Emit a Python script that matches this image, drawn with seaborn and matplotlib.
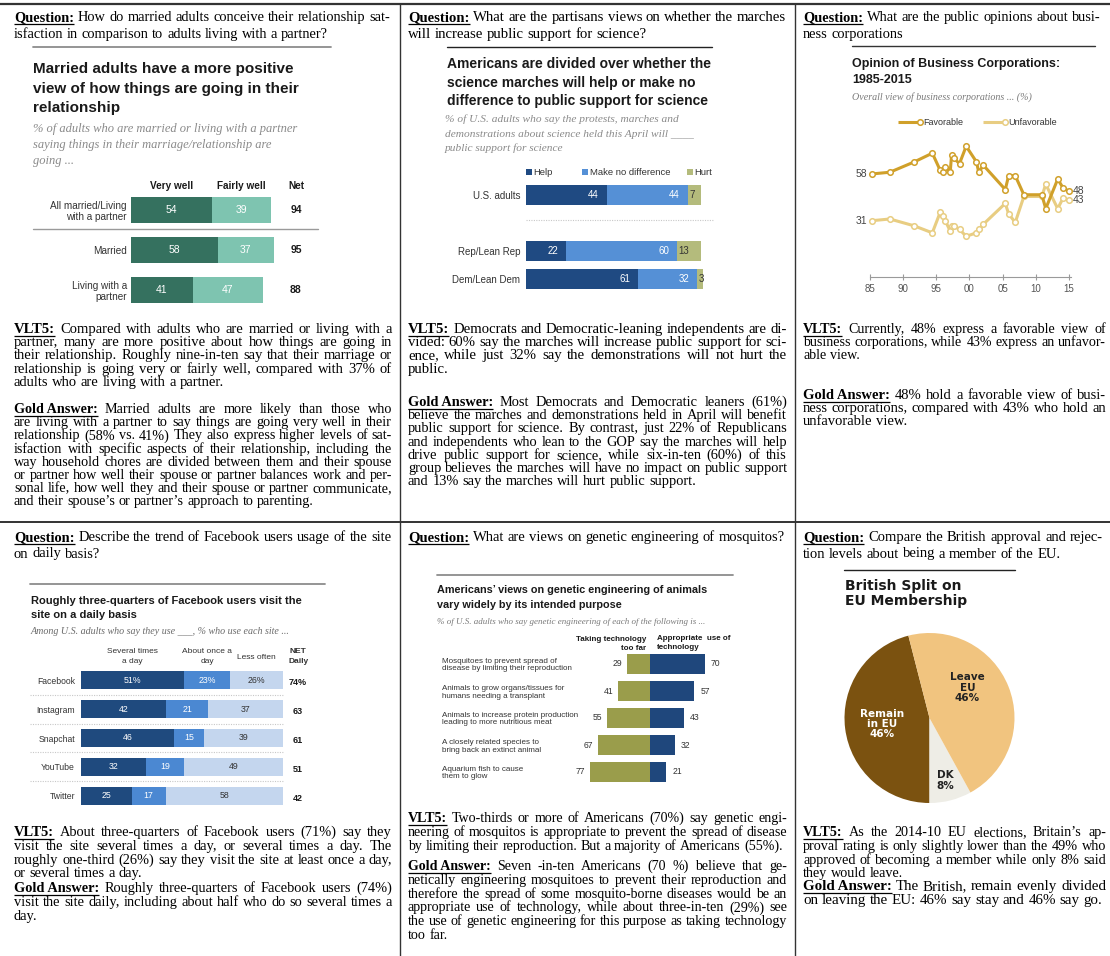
import numpy as np
import matplotlib
matplotlib.use("Agg")
import matplotlib.pyplot as plt
import seaborn as sns
from matplotlib.patches import Rectangle
from matplotlib.transforms import blended_transform_factory as blend

W, H = 1110, 956

# ---------------- data ----------------
married_groups = ["All married/Living\nwith a partner", "Married", "Living with a\npartner"]
married_very_well = [54, 58, 41]
married_fairly_well = [39, 37, 47]
married_net = [94, 95, 88]

march_groups = ["U.S. adults", "Rep/Lean Rep", "Dem/Lean Dem"]
march_order = ["U.S. adults", " ", "Rep/Lean Rep", "Dem/Lean Dem"]
march_help = [44, 22, 61]
march_no_difference = [44, 60, 32]
march_hurt = [7, 13, 3]

biz_year = [1985.25, 1988.0, 1991.7, 1994.4, 1995.6, 1996.0, 1996.35, 1997.1, 1997.3,
            1997.65, 1998.5, 1999.5, 2001.05, 2001.4, 2002.1, 2005.4, 2005.9, 2006.9,
            2008.2, 2010.9, 2011.5, 2013.3, 2014.1, 2015.0]
biz_favorable = [58, 59, 65, 70, 60, 59, 62, 59, 69, 67, 64, 74, 65, 59, 63, 49, 57, 57,
                 46, 46, 38, 55, 50, 48]
biz_unfavorable = [31, 32, 28, 24, 36, 34, 31, 25, 28, 28, 26, 22, 24, 26, 29, 41, 35, 30,
                   45, 45, 52, 38, 44, 43]
biz_ticks = [1985, 1990, 1995, 2000, 2005, 2010, 2015]
biz_tick_labels = ["85", "90", "95", "00", "05", "10", "15"]

fb_sites = ["Facebook", "Instagram", "Snapchat", "YouTube", "Twitter"]
fb_several = [51, 42, 46, 32, 25]
fb_once = [23, 21, 15, 19, 17]
fb_less = [26, 37, 39, 49, 58]
fb_net = [74, 63, 61, 51, 42]

gm_purposes = ["Mosquitoes to prevent spread of\ndisease by limiting their reproduction",
               "Animals to grow organs/tissues for\nhumans needing a transplant",
               "Animals to increase protein production\nleading to more nutritious meat",
               "A closely related species to\nbring back an extinct animal",
               "Aquarium fish to cause\nthem to glow"]
gm_too_far = [29, 41, 55, 67, 77]
gm_appropriate = [70, 57, 43, 32, 21]

eu_groups = ["Remain\nin EU", "DK", "Leave\nEU"]
eu_share = [46, 8, 46]

# ---------------- setup ----------------
sns.set_theme(style="white")
SERIF = ["Liberation Serif", "DejaVu Serif"]
SANS = ["Liberation Sans", "DejaVu Sans"]
plt.rcParams["font.family"] = SERIF
PT = 100 / 72

fig = plt.figure(figsize=(W / 100, H / 100), dpi=100)
base = fig.add_axes([0, 0, 1, 1])
base.set_xlim(0, W)
base.set_ylim(H, 0)
base.axis("off")
R = fig.canvas.get_renderer()


def box(x0, y0, x1, y1):
    ax = fig.add_axes([x0 / W, 1 - y1 / H, (x1 - x0) / W, (y1 - y0) / H])
    ax.patch.set_alpha(0)
    return ax


def width_of(s, size, weight="normal"):
    t = base.text(0, 0, s, fontsize=size, fontweight=weight)
    w = t.get_window_extent(R).width
    t.remove()
    return w


def para(x, y, lines, width, size, lead, label=None, max_size=11.2):
    # justified paragraph, one Text per word, bold underlined label in front;
    # the size is fitted so that the longest full line just fills the column
    rows = []
    for i, line in enumerate(lines):
        items = [(w, "normal") for w in line.split()]
        if i == 0 and label:
            items.insert(0, (label, "bold"))
        rows.append(items)
    full = rows[:-1] if len(rows) > 1 else rows
    scale = 10.0
    for items in full:
        need = sum(width_of(w, size, fw) for w, fw in items) + (len(items) - 1) * 0.25 * size * PT
        scale = min(scale, width / need)
    if len(rows) > 1:
        items = rows[-1]
        need = sum(width_of(w, size, fw) for w, fw in items) + (len(items) - 1) * 0.25 * size * PT
        scale = min(scale, width / need)
    size = min(size * scale, max_size)
    for i, items in enumerate(rows):
        yy = y + i * lead
        ts = [base.text(0, yy, w, fontsize=size, fontweight=fw, va="baseline", color="black")
              for w, fw in items]
        ws = [t.get_window_extent(R).width for t in ts]
        if i < len(rows) - 1 and len(ts) > 1:
            gap = (width - sum(ws)) / (len(ts) - 1)
        else:
            gap = 0.25 * size * PT
        cx = x
        for t, w in zip(ts, ws):
            t.set_x(cx)
            cx += w + gap
        if i == 0 and label:
            base.plot([x, x + ws[0]], [yy + 2.5, yy + 2.5], color="black", lw=0.9,
                      solid_capstyle="butt")


def text_lines(x, y, lead, lines, **kw):
    trans = kw.pop("transform", base.transData)
    for k, s in enumerate(lines):
        base.text(x, y + k * lead, s, va="baseline", transform=trans, **kw)


def stack_bars(ax, groups, parts, colors, width, order=None):
    totals = np.cumsum(np.array(parts, dtype=float), axis=0)
    for k in range(len(parts) - 1, -1, -1):
        sns.barplot(x=totals[k], y=groups, order=order, color=colors[k], width=width,
                    saturation=1, errorbar=None, orient="h", ax=ax, edgecolor="none",
                    linewidth=0)
    ax.set_xlabel("")
    ax.set_ylabel("")
    ax.set_xticks([])
    sns.despine(ax=ax, left=True, bottom=True)
    return totals


def style_rows(ax, size, pad, color="#333333", ha="right"):
    ax.tick_params(axis="y", length=0, labelsize=size, labelcolor=color, pad=pad)
    for lab in ax.get_yticklabels():
        lab.set_fontfamily(SANS)
        lab.set_linespacing(1.1)
        lab.set_ha(ha)


# ---------------- frame ----------------
base.plot([0, W], [4, 4], color="#333333", lw=1.6)
base.plot([0, W], [522, 522], color="#333333", lw=1.4)
for xx in (400, 795):
    base.plot([xx, xx], [4, H], color="#333333", lw=1.0)

# ---------------- texts of the six panels ----------------
QS, AS, QL, AL = 10.5, 9.5, 16.5, 13.2

para(14, 21, ["How do married adults conceive their relationship sat-",
              "isfaction in comparison to adults living with a partner?"], 376, QS, QL, "Question:")
para(14, 333, ["Compared with adults who are married or living with a",
               "partner, many are more positive about how things are going in",
               "their relationship. Roughly nine-in-ten say that their marriage or",
               "relationship is going very or fairly well, compared with 37% of",
               "adults who are living with a partner."], 378, AS, AL, "VLT5:")
para(14, 413, ["Married adults are more likely than those who",
               "are living with a partner to say things are going very well in their",
               "relationship (58% vs. 41%) They also express higher levels of sat-",
               "isfaction with specific aspects of their relationship, including the",
               "way household chores are divided between them and their spouse",
               "or partner how well their spouse or partner balances work and per-",
               "sonal life, how well they and their spouse or partner communicate,",
               "and their spouse\u2019s or partner\u2019s approach to parenting."], 378, AS, AL,
     "Gold Answer:")

para(408, 21, ["What are the partisans views on whether the marches",
               "will increase public support for science?"], 378, QS, QL, "Question:")
para(408, 333, ["Democrats and Democratic-leaning independents are di-",
                "vided: 60% say the marches will increase public support for sci-",
                "ence, while just 32% say the demonstrations will not hurt the",
                "public."], 379, AS, AL, "VLT5:")
para(408, 406, ["Most Democrats and Democratic leaners (61%)",
                "believe the marches and demonstrations held in April will benefit",
                "public support for science. By contrast, just 22% of Republicans",
                "and independents who lean to the GOP say the marches will help",
                "drive public support for science, while six-in-ten (60%) of this",
                "group believes the marches will have no impact on public support",
                "and 13% say the marches will hurt public support."], 379, AS, AL, "Gold Answer:")

para(803, 21, ["What are the public opinions about busi-",
               "ness corporations"], 298, QS, QL, "Question:")
para(803, 333, ["Currently, 48% express a favorable view of",
                "business corporations, while 43% express an unfavor-",
                "able view."], 303, AS, AL, "VLT5:")
para(803, 399, ["48% hold a favorable view of busi-",
                "ness corporations, compared with 43% who hold an",
                "unfavorable view."], 303, AS, AL, "Gold Answer:")

BL = 13.8
para(14, 541, ["Describe the trend of Facebook users usage of the site",
               "on daily basis?"], 377, QS, QL, "Question:")
para(14, 836, ["About three-quarters of Facebook users (71%) say they",
               "visit the site several times a day, or several times a day.  The",
               "roughly one-third (26%) say they visit the site at least once a day,",
               "or several times a day."], 378, AS, BL, "VLT5:")
para(14, 892, ["Roughly three-quarters of Facebook users (74%)",
               "visit the site daily, including about half who do so several times a",
               "day."], 378, AS, BL, "Gold Answer:")

para(408, 541, ["What are views on genetic engineering of mosquitos?"], 378, QS, QL, "Question:")
para(408, 822, ["Two-thirds or more of Americans (70%) say genetic engi-",
                "neering of mosquitos is appropriate to prevent the spread of disease",
                "by limiting their reproduction. But a majority of Americans (55%)."],
     379, AS, BL, "VLT5:")
para(408, 870, ["Seven -in-ten Americans (70 %) believe that ge-",
                "netically engineering mosquitoes to prevent their reproduction and",
                "therefore the spread of some mosquito-borne diseases would be an",
                "appropriate use of technology, while about three-in-ten (29%) see",
                "the use of genetic engineering for this purpose as taking technology",
                "too far."], 379, AS, BL, "Gold Answer:")

para(803, 541, ["Compare the British approval and rejec-",
                "tion levels about being a member of the EU."], 300, QS, QL, "Question:")
para(803, 836, ["As the 2014-10 EU elections, Britain\u2019s ap-",
                "proval rating is only slightly lower than the 49% who",
                "approved of becoming a member while only 8% said",
                "they would leave."], 303, AS, BL, "VLT5:")
para(803, 890, ["The British, remain evenly divided",
                "on leaving the EU: 46% say stay and 46% say go."], 303, AS, BL, "Gold Answer:")

# ---------------- panel 1: married vs living with partner ----------------
base.plot([33, 331], [47, 47], color="#8c8c8c", lw=1.3)
text_lines(33, 73, 19.5, ["Married adults have a more positive",
                          "view of how things are going in their", "relationship"],
           family=SANS, fontsize=11, fontweight="bold", color="#1a1a1a")
text_lines(33, 132, 16, ["% of adults who are married or living with a partner",
                         "saying things in their marriage/relationship are", "going ..."],
           fontsize=9, style="italic", color="#8a8a8a")
ax1 = box(131, 190, 281, 310)
c1 = ["#35715f", "#7ec4b0"]
tot1 = stack_bars(ax1, married_groups, [married_very_well, married_fairly_well], c1, 0.63)
ax1.set_xlim(0, 100)
style_rows(ax1, 7.2, 2.9)
for i in range(len(married_groups)):
    for k, part in enumerate([married_very_well, married_fairly_well]):
        ax1.text(tot1[k][i] - part[i] / 2, i, str(part[i]), ha="center", va="center",
                 color="white", fontsize=7.5, family=SANS)
    ax1.text(110, i, str(married_net[i]), ha="center", va="center", color="#1a1a1a",
             fontsize=7.5, fontweight="bold", family=SANS)
bt1 = blend(ax1.transData, base.transData)
for xv, s in [(married_very_well[0] / 2, "Very well"),
              (tot1[1][0] - married_fairly_well[0] / 2, "Fairly well"), (110, "Net")]:
    ax1.text(xv, 189, s, transform=bt1, ha="center", va="baseline", fontsize=7.2,
             fontweight="bold", family=SANS, color="#1a1a1a")
base.plot([33, 318], [229, 229], color="#9a9a9a", lw=1.0)

# ---------------- panel 2: science marches ----------------
base.plot([447, 712], [47, 47], color="#222222", lw=1.0)
text_lines(447, 68, 18.5, ["Americans are divided over whether the",
                           "science marches will help or make no",
                           "difference to public support for science"],
           family=SANS, fontsize=10, fontweight="bold", color="#1a1a1a")
text_lines(445, 122, 14.5, ["% of U.S. adults who say the protests, marches and",
                            "demonstrations about science held this April will ____",
                            "public support for science"],
           fontsize=8.2, style="italic", color="#8a8a8a")
c2 = ["#1f4a82", "#5590d6", "#b4bb7c"]
for (lx, name), col in zip([(526, "Help"), (582, "Make no difference"), (687, "Hurt")], c2):
    base.add_patch(Rectangle((lx, 168.5), 6, 6, color=col, lw=0))
    base.text(lx + 7.5, 172, name, va="center", ha="left", fontsize=6.8, family=SANS,
              color="#333333")
ax2 = box(526, 181, 710, 293)
tot2 = stack_bars(ax2, march_groups, [march_help, march_no_difference, march_hurt], c2, 0.68,
                  order=march_order)
ax2.set_xlim(0, 100)
style_rows(ax2, 7, 4.3)
for i, g in enumerate(march_groups):
    row = march_order.index(g)
    ax2.text(tot2[0][i] - 4.3, row, str(march_help[i]), ha="right", va="center",
             color="white", fontsize=7, family=SANS)
    ax2.text(tot2[1][i] - 4.3, row, str(march_no_difference[i]), ha="right", va="center",
             color="white", fontsize=7, family=SANS)
    ax2.text(tot2[1][i] + 1.0, row, str(march_hurt[i]), ha="left", va="center",
             color="#333333", fontsize=7, family=SANS)
base.plot([526, 713], [220, 220], color="#c8c8c8", lw=0.8, ls=(0, (1, 1.2)))

# ---------------- panel 3: business corporations ----------------
FAV, UNF = "#d0a02a", "#e8cd82"
base.plot([852, 1095], [46, 46], color="#333333", lw=1.0)
text_lines(852, 67, 16, ["Opinion of Business Corporations:", "1985-2015"],
           family=SANS, fontsize=9, fontweight="bold", color="#1a1a1a")
base.text(852, 100, "Overall view of business corporations ... (%)", fontsize=7.2,
          style="italic", color="#7a7a7a", va="baseline")
for (lx, name), col in zip([(898, "Favorable"), (983, "Unfavorable")], [FAV, UNF]):
    base.plot([lx, lx + 22], [122, 122], color=col, lw=2.2, solid_capstyle="butt")
    base.plot([lx + 22], [122], marker="o", ms=4, mfc="white", mec=col, mew=1.1)
    base.text(lx + 25, 122, name, va="center", ha="left", fontsize=6.5, family=SANS,
              color="#333333")
ax3 = box(862, 135, 1078, 277)
for vals, col in [(biz_unfavorable, UNF), (biz_favorable, FAV)]:
    sns.lineplot(x=biz_year, y=vals, ax=ax3, color=col, lw=2.2, marker="o", markersize=4,
                 markerfacecolor="white", markeredgecolor=col, markeredgewidth=1.1)
    ax3.text(biz_year[0] - 0.7, vals[0], str(vals[0]), ha="right", va="center",
             fontsize=7.5, family=SANS, color="#444444")
    ax3.text(biz_year[-1] + 0.6, vals[-1], str(vals[-1]), ha="left", va="center",
             fontsize=7.5, family=SANS, color="#444444")
ax3.set_xlim(1983.8, 2016.36)
ax3.set_ylim(-1.5, 80.5)
ax3.set_xticks(biz_ticks, biz_tick_labels)
ax3.set_yticks([])
ax3.set_xlabel("")
ax3.set_ylabel("")
sns.despine(ax=ax3, left=True)
ax3.spines["bottom"].set_color("#9a9a9a")
ax3.spines["bottom"].set_linewidth(0.8)
ax3.spines["bottom"].set_bounds(1985, 2015.3)
ax3.tick_params(axis="x", bottom=True, direction="inout", length=5, width=0.8, color="#9a9a9a",
                labelsize=7, labelcolor="#555555", pad=2.5)
for lab in ax3.get_xticklabels():
    lab.set_fontfamily(SANS)

# ---------------- panel 4: Facebook daily use ----------------
base.plot([30, 325], [584, 584], color="#8c8c8c", lw=1.3)
text_lines(31, 604, 13.5, ["Roughly three-quarters of Facebook users visit the",
                           "site on a daily basis"],
           family=SANS, fontsize=8, fontweight="bold", color="#1a1a1a")
base.text(31, 634, "Among U.S. adults who say they use ___, % who use each site ...",
          fontsize=7.2, style="italic", color="#6a6a6a", va="baseline")
c4 = ["#1f4a7e", "#4b88d2", "#c4d6ee"]
ax4 = box(81, 664, 283, 812)
tot4 = stack_bars(ax4, fb_sites, [fb_several, fb_once, fb_less], c4, 0.64)
ax4.set_xlim(0, 100)
style_rows(ax4, 6.2, 4.3)
for i in range(len(fb_sites)):
    pct = "%" if i == 0 else ""
    for k, part in enumerate([fb_several, fb_once, fb_less]):
        ax4.text(tot4[k][i] - part[i] / 2, i, f"{part[i]}{pct}", ha="center", va="center",
                 color="white" if k < 2 else "#333333", fontsize=6.3, family=SANS)
    ax4.text(107.5, i + 0.08, f"{fb_net[i]}{pct}", ha="center", va="center", color="#1a1a1a",
             fontsize=6.5, fontweight="bold", family=SANS)
bt4 = blend(ax4.transData, base.transData)
for xv, lines, y0, fw in [(fb_several[0] / 2, ["Several times", "a day"], 653, "normal"),
                          (tot4[1][0] - fb_once[0] / 2, ["About once a", "day"], 653, "normal"),
                          (tot4[2][0] - fb_less[0] / 2, ["Less often"], 659, "normal"),
                          (107.5, ["NET", "Daily"], 653, "bold")]:
    for k, s in enumerate(lines):
        ax4.text(xv, y0 + k * 10, s, transform=bt4, ha="center", va="baseline", fontsize=6,
                 fontweight=fw, family=SANS, color="#333333")
bt4y = blend(base.transData, ax4.transData)
for i in range(len(fb_sites) - 1):
    ax4.plot([30, 283], [i + 0.5, i + 0.5], transform=bt4y, clip_on=False, color="#c8c8c8",
             lw=0.8, ls=(0, (1, 1.2)))

# ---------------- panel 5: genetic engineering ----------------
base.plot([437, 733], [575, 575], color="#8c8c8c", lw=1.3)
text_lines(437, 593, 15, ["Americans\u2019 views on genetic engineering of animals",
                          "vary widely by its intended purpose"],
           family=SANS, fontsize=7.8, fontweight="bold", color="#1a1a1a")
base.text(437, 624, "% of U.S. adults who say genetic engineering of each of the following is ...",
          fontsize=6.5, style="italic", color="#7a7a7a", va="baseline")
text_lines(646, 641, 9, ["Taking technology", "too far"], ha="right", family=SANS,
           fontsize=5.8, fontweight="bold", color="#1a1a1a")
text_lines(657, 640, 9, ["Appropriate  use of", "technology"], ha="left", family=SANS,
           fontsize=5.8, fontweight="bold", color="#1a1a1a")
OLIVE, NAVY = "#9a9d4b", "#1f477c"
ax5 = box(572, 650.5, 728, 785.5)
too_far_neg = [-v for v in gm_too_far]
sns.barplot(x=too_far_neg, y=gm_purposes, color=OLIVE, width=0.74, saturation=1,
            errorbar=None, orient="h", ax=ax5, edgecolor="none", linewidth=0)
sns.barplot(x=gm_appropriate, y=gm_purposes, color=NAVY, width=0.74, saturation=1,
            errorbar=None, orient="h", ax=ax5, edgecolor="none", linewidth=0)
ax5.set_xlim(-100, 100)
ax5.set_xticks([])
ax5.set_xlabel("")
ax5.set_ylabel("")
sns.despine(ax=ax5, left=True, bottom=True)
style_rows(ax5, 5.8, (572 - 442) / PT, color="#333333", ha="left")
for i in range(len(gm_purposes)):
    ax5.text(too_far_neg[i] - 6.4, i, str(gm_too_far[i]), ha="right", va="center",
             fontsize=6.2, family=SANS, color="#333333")
    ax5.text(gm_appropriate[i] + 7.5, i, str(gm_appropriate[i]), ha="left", va="center",
             fontsize=6.2, family=SANS, color="#333333")

# ---------------- panel 6: EU membership pie ----------------
base.plot([844, 1015], [570, 570], color="#222222", lw=1.0)
text_lines(845, 590, 15.5, ["British Split on", "EU Membership"],
           family=["DejaVu Sans"], fontsize=10, fontweight="bold", color="#1a1a1a")
ax6 = box(844.5, 633, 1014.5, 803)
wedges, _ = ax6.pie(eu_share, colors=["#7b5210", "#eeede6", "#f1c47f"], startangle=104.4,
                    counterclock=True, radius=1, wedgeprops=dict(edgecolor="none", linewidth=0))
ax6.set_xlim(-1, 1)
ax6.set_ylim(-1, 1)
ax6.set_aspect("equal")
label_r = [0.56, 0.76, 0.57]
label_turn = [0, 0, 17]
label_col = ["white", "#222222", "#222222"]
for wdg, name, share, r, turn, col in zip(wedges, eu_groups, eu_share, label_r, label_turn, label_col):
    ang = np.deg2rad((wdg.theta1 + wdg.theta2) / 2 + turn)
    ax6.text(r * np.cos(ang), r * np.sin(ang), f"{name}\n{share}%", ha="center", va="center",
             fontsize=7.5, fontweight="bold", family=["DejaVu Sans"], color=col, linespacing=1.05)

fig.savefig("out.png", dpi=100)
